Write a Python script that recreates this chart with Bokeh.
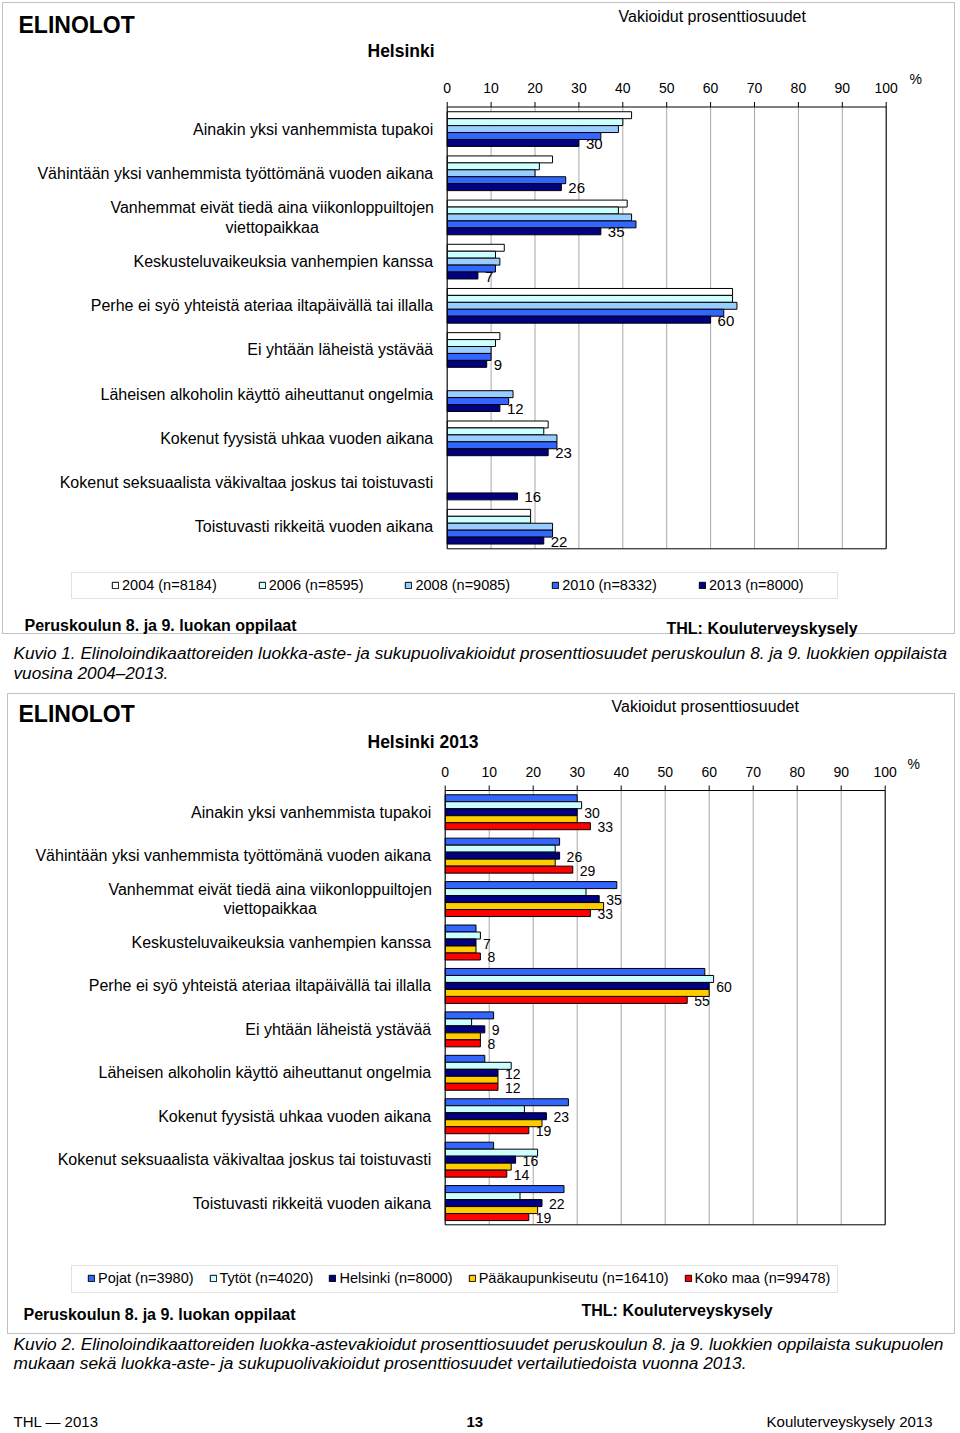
from bokeh.plotting import figure
from bokeh.models import (ColumnDataSource, Range1d, Label, BoxAnnotation, Legend, LegendItem)
from bokeh.layouts import column
from bokeh.embed import file_html
from bokeh.resources import INLINE
from bokeh.core.properties import value

nan = float("nan")
FONT = "Liberation Sans"

categories = [
    "Ainakin yksi vanhemmista tupakoi",
    "Vähintään yksi vanhemmista työttömänä vuoden aikana",
    "Vanhemmat eivät tiedä aina viikonloppuiltojen\nviettopaikkaa",
    "Keskusteluvaikeuksia vanhempien kanssa",
    "Perhe ei syö yhteistä ateriaa iltapäivällä tai illalla",
    "Ei yhtään läheistä ystävää",
    "Läheisen alkoholin käyttö aiheuttanut ongelmia",
    "Kokenut fyysistä uhkaa vuoden aikana",
    "Kokenut seksuaalista väkivaltaa joskus tai toistuvasti",
    "Toistuvasti rikkeitä vuoden aikana",
]
ticks = [0, 10, 20, 30, 40, 50, 60, 70, 80, 90, 100]

# Chart 1: Helsinki, survey years
years = ["2004 (n=8184)", "2006 (n=8595)", "2008 (n=9085)", "2010 (n=8332)", "2013 (n=8000)"]
y2004 = [42, 24, 41, 13, 65, 12, nan, 23, nan, 19]
y2006 = [40, 21, 39, 11, 65, 11, nan, 22, nan, 19]
y2008 = [39, 20, 42, 12, 66, 10, 15, 25, nan, 24]
y2010 = [35, 27, 43, 11, 63, 10, 14, 25, nan, 24]
y2013 = [30, 26, 35, 7, 60, 9, 12, 23, 16, 22]
colors1 = ["#FFFFFF", "#CCFFFF", "#99CCFF", "#3366FF", "#000080"]

# Chart 2: Helsinki 2013 and comparison groups
groups2 = ["Pojat (n=3980)", "Tytöt (n=4020)", "Helsinki (n=8000)",
           "Pääkaupunkiseutu (n=16410)", "Koko maa (n=99478)"]
pojat = [30, 26, 39, 7, 59, 11, 9, 28, 11, 27]
tytot = [31, 25, 32, 8, 61, 6, 15, 18, 21, 17]
helsinki = [30, 26, 35, 7, 60, 9, 12, 23, 16, 22]
paakaupunkiseutu = [30, 25, 36, 7, 60, 8, 12, 22, 15, 21]
koko_maa = [33, 29, 33, 8, 55, 8, 12, 19, 14, 19]
colors2 = ["#3366FF", "#CCFFFF", "#000080", "#FFCC00", "#FF0000"]

W = 956


def chart_figure(H, left_px, right_px, top_px, bottom_px):
    ppx = (right_px - left_px) / 100.0
    ppc = (bottom_px - top_px) / len(categories)
    p = figure(width=W, height=H,
               x_range=Range1d(-left_px / ppx, (W - left_px) / ppx),
               y_range=Range1d((H - top_px) / ppc, -top_px / ppc),
               x_axis_location=None, y_axis_location=None, min_border=0,
               output_backend="svg", toolbar_location=None, tools="")
    p.outline_line_color = None
    p.background_fill_color = "white"
    p.border_fill_color = "white"
    p.grid.visible = False
    return p, ppc


def draw_chart(p, ppc, series, names, colors, labelled, bar_h, val_size,
               leg_left, leg_bottom, leg_spacing, tick_lab_off):
    ncat = len(categories)
    cat_pos = [i + 0.5 for i in range(ncat)]
    # grid lines
    p.segment(x0=ticks, y0=[0] * len(ticks), x1=ticks, y1=[ncat] * len(ticks),
              line_color="#a8a8a8", line_width=1)
    n = len(series)
    renderers = []
    for i, s in enumerate(series):
        off = (i - (n - 1) / 2) * bar_h
        rows = [(c + off, v) for c, v in zip(cat_pos, s) if v == v]
        src = ColumnDataSource(dict(y=[r[0] for r in rows], v=[r[1] for r in rows],
                                    lab=[f"{r[1]:.0f}" for r in rows]))
        r = p.hbar(y="y", left=0, right="v", height=bar_h, source=src,
                   fill_color=colors[i], line_color="black", line_width=1)
        renderers.append(r)
        if i in labelled:
            p.text(x="v", y="y", text="lab", source=src, x_offset=7, y_offset=1,
                   text_baseline="middle", text_align="left", text_font=value(FONT),
                   text_font_size=val_size, text_color="black")
    # plot-area border (axes lines)
    p.quad(left=[0], right=[100], top=[0], bottom=[ncat], fill_color=None,
           line_color="black", line_width=1)
    # top axis ticks and labels
    p.segment(x0=ticks, y0=[0] * len(ticks), x1=ticks, y1=[-5 / ppc] * len(ticks),
              line_color="black", line_width=1)
    p.text(x=ticks, y=[0] * len(ticks), text=[str(t) for t in ticks], y_offset=tick_lab_off,
           text_align="center", text_baseline="middle", text_font=value(FONT),
           text_font_size="14px", text_color="black")
    # category labels
    single = [(c, t) for c, t in zip(cat_pos, categories) if "\n" not in t]
    multi = [(c, t) for c, t in zip(cat_pos, categories) if "\n" in t]
    p.text(x=[0] * len(single), y=[c for c, _ in single], text=[t for _, t in single],
           x_offset=-14, text_align="right", text_baseline="middle", text_font=value(FONT),
           text_font_size="16px", text_color="black")
    p.text(x=[0] * len(multi), y=[c for c, _ in multi], text=[t for _, t in multi],
           x_offset=-175, text_align="center", text_baseline="middle", text_font=value(FONT),
           text_font_size="16px", text_color="black", text_line_height=1.15)
    legend = Legend(items=[LegendItem(label=nm, renderers=[r]) for nm, r in zip(names, renderers)],
                    orientation="horizontal", location=(leg_left, p.height - leg_bottom),
                    glyph_width=8, glyph_height=8, label_standoff=3, spacing=leg_spacing,
                    padding=0, margin=0, border_line_color=None, background_fill_alpha=0,
                    label_text_font=FONT, label_text_font_size="14.5px",
                    label_text_color="black", label_height=16)
    p.add_layout(legend)


def add_label(p, x, y, text, size, style="normal", align="left"):
    p.add_layout(Label(x=x, y=p.height - y, x_units="screen", y_units="screen", text=text,
                       text_font=FONT, text_font_size=size, text_font_style=style,
                       text_baseline="middle", text_align=align, text_color="black"))


def add_box(p, x0, y0, x1, y1, color="#333333"):
    p.add_layout(BoxAnnotation(left=x0, right=x1, top=p.height - y0, bottom=p.height - y1,
                               left_units="screen", right_units="screen",
                               top_units="screen", bottom_units="screen",
                               fill_color=None, fill_alpha=0, line_color=color,
                               line_width=1))


# ---- figure 1 (page y 0..688) ----
p1, ppc1 = chart_figure(688, 446.7, 885.7, 106.5, 548.3)
draw_chart(p1, ppc1, [y2004, y2006, y2008, y2010, y2013], years, colors1, [4],
           bar_h=0.157, val_size="15px", leg_left=111, leg_bottom=593, leg_spacing=41,
           tick_lab_off=-19.5)
add_box(p1, 2, 2, 954, 633)
add_label(p1, 18, 24, "ELINOLOT", "23px", "bold")
add_label(p1, 367, 50, "Helsinki", "17.5px", "bold")
add_label(p1, 618, 16, "Vakioidut prosenttiosuudet", "16px")
add_label(p1, 909, 78, "%", "14px")
add_box(p1, 71, 572, 837, 598, "#a0a0a0")
add_label(p1, 24, 625, "Peruskoulun 8. ja 9. luokan oppilaat", "16px", "bold")
add_label(p1, 666, 628, "THL: Kouluterveyskysely", "16px", "bold")
add_label(p1, 13, 652, "Kuvio 1. Elinoloindikaattoreiden luokka-aste- ja sukupuolivakioidut "
          "prosenttiosuudet peruskoulun 8. ja 9. luokkien oppilaista", "17.2px", "italic")
add_label(p1, 13, 672, "vuosina 2004–2013.", "17.2px", "italic")

# ---- figure 2 (page y 688..1430) ----
p2, ppc2 = chart_figure(742, 444.7, 884.7, 102.0, 536.3)
draw_chart(p2, ppc2, [pojat, tytot, helsinki, paakaupunkiseutu, koko_maa], groups2, colors2,
           [2, 4], bar_h=0.161, val_size="14px", leg_left=87, leg_bottom=598, leg_spacing=15,
           tick_lab_off=-19)
add_box(p2, 7, 5, 954, 645)
add_label(p2, 18, 25, "ELINOLOT", "23px", "bold")
add_label(p2, 611, 18, "Vakioidut prosenttiosuudet", "16px")
add_label(p2, 367, 53, "Helsinki 2013", "17.5px", "bold")
add_label(p2, 907, 75, "%", "14px")
add_box(p2, 71, 577, 837, 604, "#a0a0a0")
add_label(p2, 23, 626, "Peruskoulun 8. ja 9. luokan oppilaat", "16px", "bold")
add_label(p2, 581, 622, "THL: Kouluterveyskysely", "16px", "bold")
add_label(p2, 13, 655, "Kuvio 2. Elinoloindikaattoreiden luokka-astevakioidut prosenttiosuudet "
          "peruskoulun 8. ja 9. luokkien oppilaista sukupuolen", "17.3px", "italic")
add_label(p2, 13, 674, "mukaan sekä luokka-aste- ja sukupuolivakioidut prosenttiosuudet "
          "vertailutiedoista vuonna 2013.", "17.3px", "italic")
add_label(p2, 13, 733, "THL — 2013", "15px")
add_label(p2, 466, 733, "13", "15px", "bold")
add_label(p2, 932, 733, "Kouluterveyskysely 2013", "15px", "normal", "right")

page = column(p1, p2, spacing=0)
open("out.html", "w").write(file_html(page, INLINE))
